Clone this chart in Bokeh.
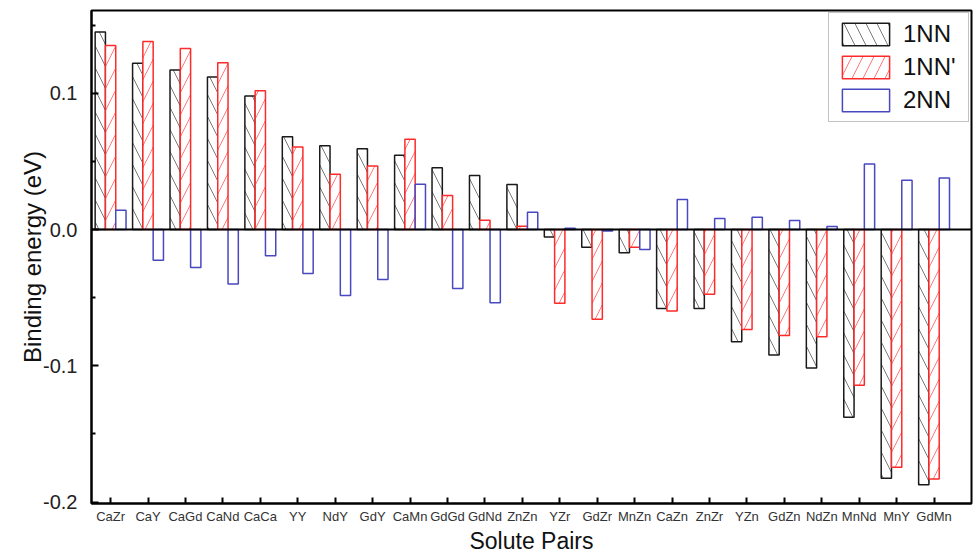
from bokeh.plotting import figure
from bokeh.models import (ColumnDataSource, Range1d, FixedTicker, PrintfTickFormatter,
                          Span, Legend, LegendItem)
from bokeh.transform import dodge
from bokeh.embed import file_html
from bokeh.resources import INLINE

categories = ["CaZr", "CaY", "CaGd", "CaNd", "CaCa", "YY", "NdY", "GdY", "CaMn", "GdGd",
              "GdNd", "ZnZn", "YZr", "GdZr", "MnZn", "CaZn", "ZnZr", "YZn", "GdZn", "NdZn",
              "MnNd", "MnY", "GdMn"]
nn1 = [0.145, 0.122, 0.117, 0.112, 0.098, 0.068, 0.0615, 0.0593, 0.0545, 0.0454,
       0.0396, 0.033, -0.0054, -0.013, -0.0171, -0.0579, -0.0579, -0.0823, -0.0921, -0.1016,
       -0.1377, -0.1824, -0.1873]
nn1p = [0.135, 0.138, 0.1328, 0.1223, 0.1018, 0.0606, 0.0405, 0.0466, 0.0662, 0.0249,
        0.0068, 0.0024, -0.054, -0.0659, -0.013, -0.0598, -0.0474, -0.0733, -0.0777, -0.0786,
        -0.1143, -0.1744, -0.1831]
nn2 = [0.0142, -0.0225, -0.0278, -0.040, -0.0193, -0.0322, -0.0484, -0.0366, 0.0332, -0.0432,
       -0.0537, 0.0127, 0.001, -0.001, -0.0147, 0.022, 0.0081, 0.009, 0.0066, 0.0022,
       0.0481, 0.0361, 0.0379]
series_names = ["1NN", "1NN'", "2NN"]
y_ticks = [-0.2, -0.1, 0.0, 0.1]
y_minor = [-0.15, -0.05, 0.05, 0.15]

FONT = "Liberation Sans"

src = ColumnDataSource(dict(idx=list(range(len(categories))), cat=categories,
                            nn1=nn1, nn1p=nn1p, nn2=nn2))

p = figure(width=975, height=559, output_backend="svg", toolbar_location=None,
           x_range=Range1d(-0.51, 23.0), y_range=Range1d(-0.201, 0.1607),
           min_border_left=91, min_border_right=4, min_border_top=10, min_border_bottom=56)
p.frame_width = 880
p.frame_height = 493
p.xgrid.visible = False
p.ygrid.visible = False
p.outline_line_color = "black"
p.outline_line_width = 2
p.background_fill_color = "white"

W = 0.275
HS = 22
r1 = p.vbar(x=dodge("idx", -W), top="nn1", bottom=0, width=W, source=src,
            fill_color="white", line_color="#1a1a1a", line_width=1.5,
            hatch_pattern="left_diagonal_line", hatch_color="#7a7a7a",
            hatch_scale=HS, hatch_weight=1)
r2 = p.vbar(x=dodge("idx", 0), top="nn1p", bottom=0, width=W, source=src,
            fill_color="white", line_color="#ff2a2a", line_width=1.5,
            hatch_pattern="right_diagonal_line", hatch_color="#ff7a7a",
            hatch_scale=HS, hatch_weight=1)
r3 = p.vbar(x=dodge("idx", W), top="nn2", bottom=0, width=W, source=src,
            fill_color="white", line_color="#4848c0", line_width=1.5)

p.add_layout(Span(location=0, dimension="width", line_color="black", line_width=2))

# x axis
p.xaxis.ticker = FixedTicker(ticks=list(range(len(categories))))
p.xaxis.major_label_overrides = {i: c for i, c in enumerate(categories)}
p.xaxis.major_tick_in = 6
p.xaxis.major_tick_out = 0
p.xaxis.minor_tick_line_color = None
p.xaxis.major_label_standoff = 5
p.xaxis.major_label_text_font = FONT
p.xaxis.major_label_text_font_size = "13px"
p.xaxis.major_label_text_color = "#333333"
p.xaxis.axis_label = "Solute Pairs"
p.xaxis.axis_label_text_font = FONT
p.xaxis.axis_label_text_font_size = "23px"
p.xaxis.axis_label_text_font_style = "normal"
p.xaxis.axis_label_text_color = "#111111"
p.xaxis.axis_label_standoff = 1
p.xaxis.axis_line_width = 2
p.xaxis.major_tick_line_width = 2

# y axis
p.yaxis.ticker = FixedTicker(ticks=y_ticks, minor_ticks=y_minor)
p.yaxis.formatter = PrintfTickFormatter(format="%.1f")
p.yaxis.major_tick_in = 7
p.yaxis.major_tick_out = 0
p.yaxis.minor_tick_in = 4
p.yaxis.minor_tick_out = 0
p.yaxis.major_tick_line_width = 2
p.yaxis.minor_tick_line_width = 2
p.yaxis.axis_line_width = 2
p.yaxis.major_label_standoff = 14
p.yaxis.major_label_text_font = FONT
p.yaxis.major_label_text_font_size = "20px"
p.yaxis.major_label_text_color = "#222222"
p.yaxis.axis_label = "Binding energy (eV)"
p.yaxis.axis_label_text_font = FONT
p.yaxis.axis_label_text_font_size = "24px"
p.yaxis.axis_label_text_font_style = "normal"
p.yaxis.axis_label_text_color = "#111111"
p.yaxis.axis_label_standoff = -6

legend = Legend(items=[LegendItem(label=series_names[0], renderers=[r1]),
                       LegendItem(label=series_names[1], renderers=[r2]),
                       LegendItem(label=series_names[2], renderers=[r3])],
                location="top_right", margin=2, padding=7, spacing=5,
                glyph_width=59, glyph_height=28, label_standoff=8, label_width=58,
                label_text_font=FONT, label_text_font_size="24px",
                label_text_color="#111111", border_line_color="#888888",
                border_line_width=1.5, background_fill_color="white",
                background_fill_alpha=1.0)
p.add_layout(legend)

open("out.html", "w").write(file_html(p, INLINE))
